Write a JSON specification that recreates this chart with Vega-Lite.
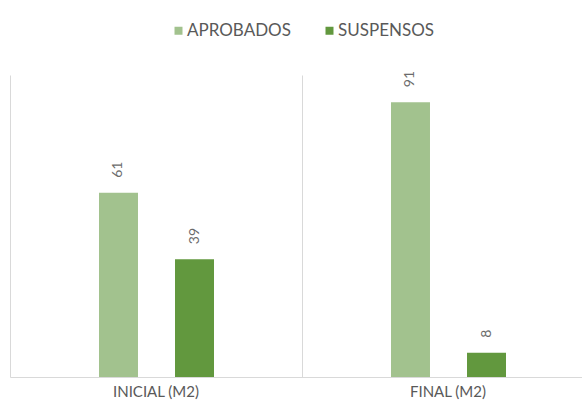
{
  "$schema": "https://vega.github.io/schema/vega-lite/v6.json",
  "width": 572,
  "height": 302,
  "autosize": {"type": "none"},
  "padding": {"left": 10, "top": 75, "right": 0, "bottom": 29},
  "background": "white",
  "config": {"view": {"stroke": null}, "font": "Lato"},
  "data": {"values": [
    {"periodo": "INICIAL (M2)", "serie": "APROBADOS", "valor": 61},
    {"periodo": "INICIAL (M2)", "serie": "SUSPENSOS", "valor": 39},
    {"periodo": "FINAL (M2)", "serie": "APROBADOS", "valor": 91},
    {"periodo": "FINAL (M2)", "serie": "SUSPENSOS", "valor": 8}
  ]},
  "encoding": {
    "x": {
      "field": "periodo", "type": "nominal", "sort": ["INICIAL (M2)", "FINAL (M2)"],
      "scale": {"paddingInner": 0, "paddingOuter": 0, "range": [0, 584]},
      "axis": {"title": null, "grid": true, "bandPosition": 0, "gridColor": "#d9d9d9", "domainColor": "#d9d9d9", "ticks": false, "labelAngle": 0, "labelColor": "#595959", "labelFontSize": 15, "labelPadding": 7, "labelFont": "Lato"}
    },
    "xOffset": {
      "field": "serie", "type": "nominal", "sort": ["APROBADOS", "SUSPENSOS"],
      "scale": {"paddingInner": 0.487, "paddingOuter": 0, "range": [89, 204]}
    },
    "y": {"field": "valor", "type": "quantitative", "scale": {"domain": [0, 100]}, "axis": null}
  },
  "layer": [
    {
      "mark": {"type": "bar"},
      "encoding": {
        "color": {
          "field": "serie", "type": "nominal", "sort": ["APROBADOS", "SUSPENSOS"],
          "scale": {"domain": ["APROBADOS", "SUSPENSOS"], "range": ["#a2c28e", "#62983e"]},
          "legend": {"title": null, "orient": "none", "legendX": 160, "legendY": -53, "padding": 0, "direction": "horizontal", "symbolType": "square", "symbolSize": 64, "symbolStrokeWidth": 0, "labelFontSize": 17, "labelColor": "#595959", "labelFont": "Lato", "columnPadding": 30, "labelOffset": 0}
        }
      }
    },
    {
      "mark": {"type": "text", "angle": 270, "align": "left", "baseline": "middle", "dx": 15, "fontSize": 14, "color": "#6b6b6b", "font": "Lato"},
      "encoding": {"text": {"field": "valor", "type": "quantitative"}}
    }
  ]
}
